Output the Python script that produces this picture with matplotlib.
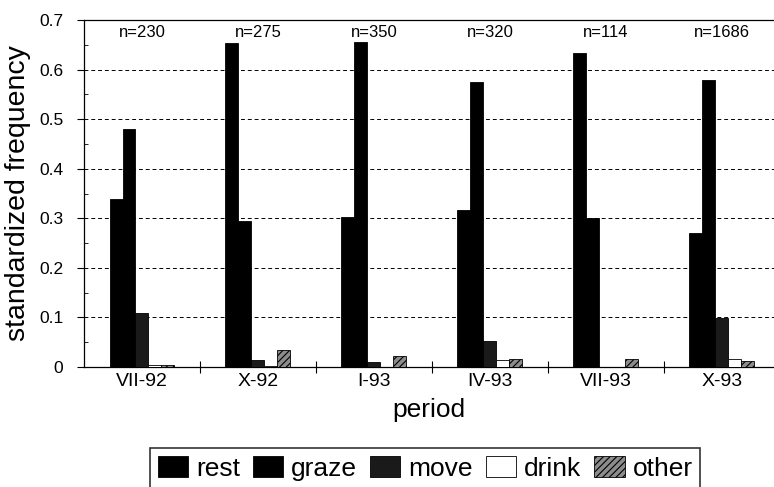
import matplotlib
matplotlib.use("Agg")
import matplotlib.pyplot as plt
import numpy as np
from matplotlib.patches import Patch

plt.rcParams['font.family'] = ['Liberation Sans', 'DejaVu Sans']
plt.rcParams['hatch.linewidth'] = 0.8

periods = ["VII-92", "X-92", "I-93", "IV-93", "VII-93", "X-93"]
n_labels = ["n=230", "n=275", "n=350", "n=320", "n=114", "n=1686"]
behaviours = ["rest", "graze", "move", "drink", "other"]
rest = [0.338, 0.653, 0.303, 0.316, 0.633, 0.271]
graze = [0.481, 0.295, 0.656, 0.575, 0.300, 0.579]
move = [0.109, 0.015, 0.010, 0.052, 0.0, 0.098]
drink = [0.005, 0.002, 0.0, 0.015, 0.0, 0.016]
other = [0.005, 0.035, 0.022, 0.017, 0.016, 0.012]
series = [rest, graze, move, drink, other]

faces = ["#000000", "#000000", "#1a1a1a", "#ffffff", "#8c8c8c"]
hatches = [None, None, None, None, "/////"]

W, H = 774, 487
fig = plt.figure(figsize=(W / 100, H / 100), dpi=100)
ax = fig.add_axes([84 / W, 1 - 367 / H, 1 - 84 / W, (367 - 20) / H])

x = np.arange(len(periods))
w = 0.112
for i, (vals, fc, h) in enumerate(zip(series, faces, hatches)):
    offs = (i - 2) * w
    ax.bar(x + offs, vals, width=w, color=fc, edgecolor="black",
           linewidth=0.6, hatch=h, zorder=3, label=behaviours[i])

for xi, t in zip(x, n_labels):
    ax.text(xi, 0.674, t, ha="center", va="center", fontsize=12, zorder=4)

ax.set_xlim(-0.5, 5.45)
ax.set_ylim(0, 0.7)
ax.set_yticks(np.arange(0, 0.71, 0.1))
ax.set_yticklabels(["0", "0.1", "0.2", "0.3", "0.4", "0.5", "0.6", "0.7"], fontsize=12.5)
ax.set_yticks(np.arange(0.05, 0.7, 0.1), minor=True)
ax.set_xticks(x)
ax.set_xticklabels(periods, fontsize=14)
ax.set_xticks(np.arange(0.5, 5.5, 1.0), minor=True)
ax.tick_params(axis="x", which="major", length=0, pad=4)
ax.tick_params(axis="x", which="minor", direction="inout", length=8, width=0.8)
ax.tick_params(axis="y", which="major", direction="out", length=5, width=0.8, pad=10)
ax.tick_params(axis="y", which="minor", direction="in", length=3, width=0.6)

for yv in np.arange(0.1, 0.65, 0.1):
    ax.axhline(yv, color="black", linestyle=(0, (4, 3)), linewidth=0.7, zorder=1)

ax.spines["right"].set_visible(False)
for s in ["left", "bottom", "top"]:
    ax.spines[s].set_linewidth(0.9)

fig.text(18 / W, 1 - 193.5 / H, "standardized frequency", rotation=90,
         ha="center", va="center", fontsize=20.5)
ax.set_xlabel("period", fontsize=19, labelpad=6)

handles = [Patch(facecolor=fc, edgecolor="black", hatch=h, linewidth=0.6)
           for fc, h in zip(faces, hatches)]
leg = fig.legend(handles, behaviours, loc="upper left",
                 bbox_to_anchor=(150 / W, 1 - 448 / H), bbox_transform=fig.transFigure,
                 ncol=5, fontsize=19, frameon=True, fancybox=False,
                 handlelength=1.14, handleheight=0.87, handletextpad=0.3,
                 columnspacing=0.5, borderpad=0.3, borderaxespad=0)
leg.get_frame().set_edgecolor("black")
leg.get_frame().set_linewidth(1.2)

fig.savefig("out.png", dpi=100)
